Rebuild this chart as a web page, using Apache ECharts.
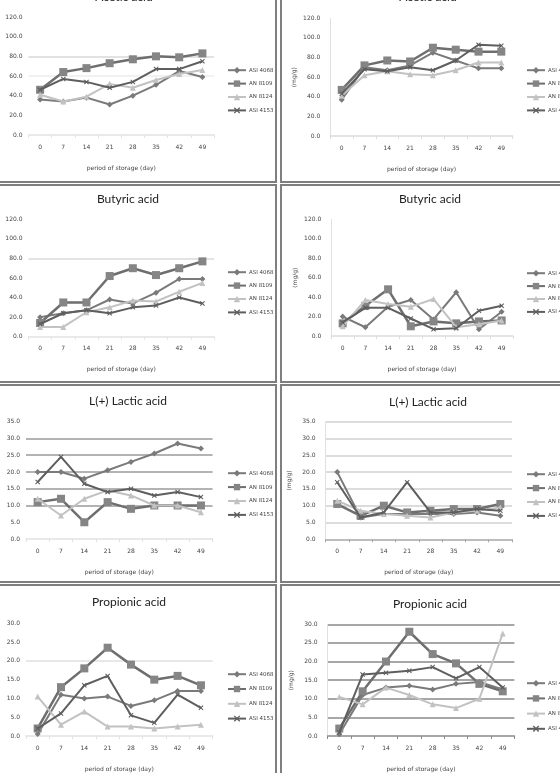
<!DOCTYPE html>
<html>
<head>
<meta charset="utf-8">
<script src="https://cdn.jsdelivr.net/npm/echarts@6/dist/echarts.min.js"></script>
<style>
html, body { margin: 0; padding: 0; background: #fff; }
#chart { width: 560px; height: 773px; }
</style>
</head>
<body>
<div id="chart"></div>
<script>
// x axis: period of storage (day)
const days = ['0', '7', '14', '21', '28', '35', '42', '49']
const strains = ['ASI 4068', 'AN 8109', 'AN 8124', 'ASI 4153']
const titles = ['Acetic acid', 'Acetic acid', 'Butyric acid', 'Butyric acid',
  'L(+) Lactic acid', 'L(+) Lactic acid', 'Propionic acid', 'Propionic acid']
const yMax = [120, 120, 120, 120, 35, 35, 30, 30]
const yStep = [20, 20, 20, 20, 5, 5, 5, 5]

// one row per strain, same order as strains
const aceticLeft = [
  [36, 34, 38, 31, 40, 51, 65, 59],
  [46, 64, 68, 73, 77, 80, 79, 83],
  [41, 34, 39, 52, 48, 56, 62, 66],
  [46, 57, 54, 48, 54, 67, 67, 75]
]
const aceticRight = [
  [37, 70, 67, 72, 85, 77, 69, 69],
  [47, 72, 77, 76, 90, 88, 86, 86],
  [41, 62, 66, 63, 62, 67, 75, 75],
  [43, 68, 66, 70, 67, 77, 93, 92]
]
const butyricLeft = [
  [20, 24, 27, 38, 34, 45, 59, 59],
  [14, 35, 35, 62, 70, 63, 70, 77],
  [10, 10, 25, 30, 37, 36, 46, 55],
  [13, 24, 27, 24, 30, 32, 40, 34]
]
const butyricRight = [
  [20, 9, 30, 37, 17, 45, 7, 25],
  [13, 31, 48, 10, 15, 13, 15, 16],
  [10, 37, 33, 30, 38, 9, 12, 16],
  [14, 29, 29, 18, 7, 8, 26, 31]
]
const lacticLeft = [
  [20, 20, 18, 20.5, 23, 25.5, 28.5, 27],
  [11, 12, 5, 11, 9, 10, 10, 10],
  [12, 7, 12, 14.5, 13, 10, 10, 8],
  [17, 24.5, 16.5, 14, 15, 13, 14, 12.5]
]
const lacticRight = [
  [20, 6.5, 7.5, 7.5, 7.5, 7.5, 8, 7],
  [10.5, 7, 10, 8, 8.5, 9, 9, 10.5],
  [11.5, 8.5, 7.5, 7, 6.5, 8, 8.5, 9.5],
  [17, 6.5, 8, 17, 8, 8, 9, 8.5]
]
const propionicLeft = [
  [0.5, 11, 10, 10.5, 8, 9.5, 12, 12],
  [2, 13, 18, 23.5, 19, 15, 16, 13.5],
  [10.5, 3, 6.5, 2.5, 2.5, 2, 2.5, 3],
  [2, 6, 13.5, 16, 5.5, 3.5, 11, 7.5]
]
const propionicRight = [
  [0.5, 11, 13, 13.5, 12.5, 14, 14.5, 12.5],
  [2, 12, 20, 28, 22, 19.5, 14, 12],
  [10.5, 8.5, 13, 11, 8.5, 7.5, 10, 27.5],
  [1, 16.5, 17, 17.5, 18.5, 15.5, 18.5, 13]
]
const panelData = [aceticLeft, aceticRight, butyricLeft, butyricRight,
  lacticLeft, lacticRight, propionicLeft, propionicRight]

// layout of each framed panel (pixels)
const T = 'rgba(0,0,0,0)'
const panels = [
  { frame: [-10, -20, 286, 202], grid: [28.5, 17, 185.5, 118], title: [124, -9], legend: [227, 67, 7],
    split: [T, T, T, '#ececec', '#d8d8d8', T, T], axis: '#e2e2e2', right: false },
  { frame: [281, -20, 290, 202], grid: [330.3, 18.3, 182.4, 117.7], title: [428, -9], legend: [526, 67, 7],
    split: [T], axis: '#dcdcdc', right: true },
  { frame: [-10, 185, 286, 197], grid: [28.5, 219.3, 185.5, 117.4], title: [128, 193], legend: [227, 269, 7],
    split: [T, T, T, T, '#dadada', T, T], axis: '#e2e2e2', right: false },
  { frame: [281, 185, 290, 197], grid: [331.3, 219.3, 181.7, 116.7], title: [430, 193], legend: [526, 270, 6.5],
    split: [T], axis: '#dcdcdc', right: true },
  { frame: [-10, 385, 286, 197], grid: [26, 421.7, 186.6, 117.3], title: [128, 395], legend: [227, 470, 7.5],
    split: [T, T, '#9a9a9a', '#9a9a9a', '#9a9a9a', '#9a9a9a', '#9a9a9a', T], axis: '#e2e2e2', right: false },
  { frame: [281, 385, 290, 197], grid: [325.6, 421.7, 186.4, 117.6], title: [428, 396], legend: [526, 471, 7.5],
    split: [T, '#d0d0d0', '#d0d0d0', '#d0d0d0', '#d0d0d0', '#d0d0d0', '#d0d0d0', '#d0d0d0'], axis: '#a8a8a8', right: true },
  { frame: [-10, 585, 286, 205], grid: [26, 623.3, 186.6, 116], title: [129, 596], legend: [227, 671, 8.4],
    split: [T, T, T, T, '#e0e0e0', T, T], axis: '#e2e2e2', right: false },
  { frame: [281, 585, 290, 205], grid: [327.6, 624.3, 186.8, 116.7], title: [430, 598], legend: [526, 680, 8.8],
    split: [T, '#8a8a8a', '#8a8a8a', '#8a8a8a', '#8a8a8a', '#8a8a8a', '#8a8a8a'], axis: '#8a8a8a', right: true }
]

const xMark = 'path://M0,1.5L1.5,0L5,3.5L8.5,0L10,1.5L6.5,5L10,8.5L8.5,10L5,6.5L1.5,10L0,8.5L3.5,5Z'
const looks = [
  { line: '#7a7a7a', dot: '#7a7a7a', symbol: 'diamond', size: 6, width: 2 },
  { line: '#6e6e6e', dot: '#858585', symbol: 'rect', size: 8, width: 2.5 },
  { line: '#c2c2c2', dot: '#c2c2c2', symbol: 'triangle', size: 6, width: 2 },
  { line: '#5e5e5e', dot: '#5e5e5e', symbol: xMark, size: 5, width: 2 }
]

const tick = { fontFamily: 'DejaVu Sans', fontSize: 6, color: '#444' }

const grid = [], xAxis = [], yAxis = [], title = [], legend = [], series = [], frames = []
panels.forEach((p, i) => {
  frames.push({
    type: 'rect', silent: true, z: 0,
    shape: { x: p.frame[0], y: p.frame[1], width: p.frame[2], height: p.frame[3] },
    style: { fill: 'none', stroke: '#7f7f7f', lineWidth: 2 }
  })
  grid.push({ left: p.grid[0], top: p.grid[1], width: p.grid[2], height: p.grid[3] })
  title.push({
    text: titles[i], left: p.title[0], top: p.title[1], textAlign: 'center', padding: 0,
    textStyle: { fontFamily: 'Lato', fontSize: 12, fontWeight: 'normal', color: '#222' }
  })
  legend.push({
    data: strains, orient: 'vertical', left: p.legend[0], top: p.legend[1],
    itemGap: p.legend[2], itemWidth: 18, itemHeight: 8, padding: 0,
    textStyle: { fontFamily: 'DejaVu Sans', fontSize: 5.5, color: '#444', padding: [0, 0, 0, -2] }
  })
  xAxis.push({
    type: 'category', gridIndex: i, data: days, boundaryGap: true,
    name: 'period of storage (day)', nameLocation: 'middle', nameGap: 30,
    nameTextStyle: tick,
    axisLine: { lineStyle: { color: p.axis, width: 1.5 } },
    axisTick: { show: true, length: 3, lineStyle: { color: p.axis } },
    axisLabel: Object.assign({ margin: 9 }, tick)
  })
  yAxis.push({
    type: 'value', gridIndex: i, min: 0, max: yMax[i], interval: yStep[i],
    name: p.right ? '(mg/g)' : '', nameLocation: 'middle', nameRotate: 90, nameGap: 33,
    nameTextStyle: tick,
    axisLine: { show: p.right, lineStyle: { color: '#e0e0e0' } },
    axisTick: { show: false },
    axisLabel: Object.assign({ margin: p.right ? 10 : 6, formatter: v => v.toFixed(1) }, tick),
    splitLine: { show: true, lineStyle: { color: p.split, width: 1.5 } }
  })
  panelData[i].forEach((vals, k) => {
    const s = looks[k]
    series.push({
      type: 'line', name: strains[k], xAxisIndex: i, yAxisIndex: i, data: vals,
      symbol: s.symbol, symbolSize: s.size, showAllSymbol: true,
      lineStyle: { color: s.line, width: s.width },
      itemStyle: { color: s.dot, borderWidth: 0 },
      color: s.line, z: 3 + k
    })
  })
})

const chart = echarts.init(document.getElementById('chart'))
chart.setOption({
  animation: false,
  backgroundColor: '#fff',
  graphic: frames,
  title, legend, grid, xAxis, yAxis, series
})
</script>
</body>
</html>
